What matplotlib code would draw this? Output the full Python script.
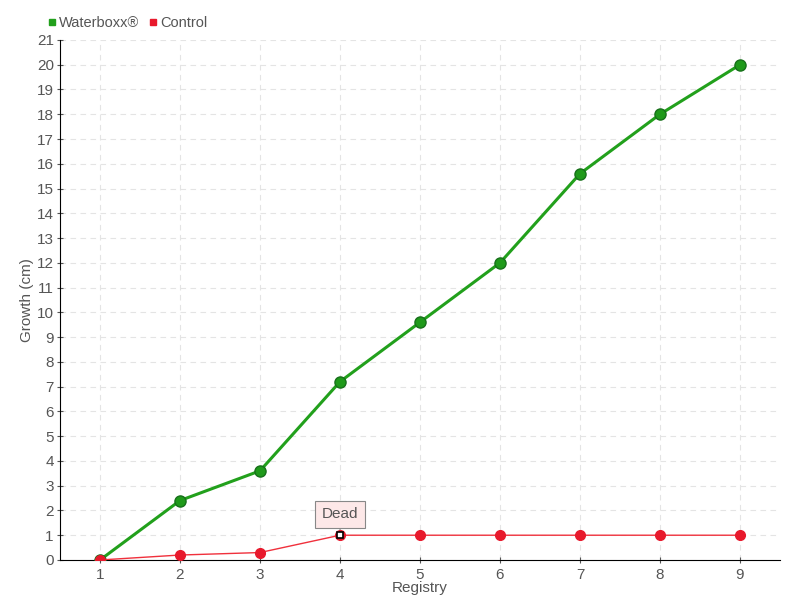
import numpy as np
import matplotlib
matplotlib.use("Agg")
import matplotlib.pyplot as plt
from matplotlib.lines import Line2D

registry = [1, 2, 3, 4, 5, 6, 7, 8, 9]
waterboxx = [0, 2.4, 3.6, 7.2, 9.6, 12, 15.6, 18, 20]
control = [0, 0.2, 0.3, 1, 1, 1, 1, 1, 1]
yticks = list(range(0, 22))

txt = "#555555"
plt.rcParams['font.family'] = ['Liberation Sans', 'DejaVu Sans']

fig = plt.figure(figsize=(8, 6), dpi=100)
ax = fig.add_axes([0.075, 0.0667, 0.9, 0.8667])

ax.plot(registry, waterboxx, color="#22a01c", lw=2.2, marker="o", ms=8,
        mfc="#1f9a1a", mec="#17701a", mew=1, zorder=3)
ax.plot(registry, control, color="#f0303c", lw=1, marker="o", ms=7,
        mfc="#e8192c", mec="#e8192c", zorder=4)
# highlighted point
ax.plot(registry[3], control[3], marker="s", ms=5, mfc="white", mec="black", mew=1.2, zorder=5)

ax.annotate("Dead", xy=(registry[3], control[3]), xytext=(0, 15), textcoords="offset points",
            ha="center", va="center", fontsize=11, color=txt,
            bbox=dict(boxstyle="square,pad=0.45", fc="#fde8e8", ec="#888888", lw=0.8),
            arrowprops=dict(arrowstyle="-", color="#888888", lw=0.8, shrinkA=0, shrinkB=4),
            zorder=6)

ax.set_xlim(0.5, 9.5)
ax.set_ylim(0, 21)
ax.set_xticks(registry)
ax.set_yticks(yticks)
ax.tick_params(axis="both", colors=txt, labelsize=11, direction="inout", length=5)
ax.tick_params(axis="y", pad=2)
for s in ["top", "right"]:
    ax.spines[s].set_visible(False)
ax.spines["left"].set_color("black")
ax.spines["bottom"].set_color("black")
ax.grid(True, color="#e4e4e4", ls=(0, (5, 4)), lw=0.8)
ax.set_axisbelow(True)

ax.set_xlabel("Registry", color=txt, fontsize=11, labelpad=-1)
ax.set_ylabel("Growth (cm)", color=txt, fontsize=11, labelpad=2)

handles = [Line2D([], [], ls="none", marker="s", ms=5, color="#22a01c"),
           Line2D([], [], ls="none", marker="s", ms=5, color="#e8192c")]
leg = fig.legend(handles, ["Waterboxx\u00ae", "Control"], loc="upper left",
                 bbox_to_anchor=(0.043, 0.995), ncol=2, frameon=False, fontsize=10.5,
                 handlelength=0.6, handletextpad=0.2, columnspacing=0.6)
for t in leg.get_texts():
    t.set_color(txt)

fig.savefig("out.png", dpi=100)
